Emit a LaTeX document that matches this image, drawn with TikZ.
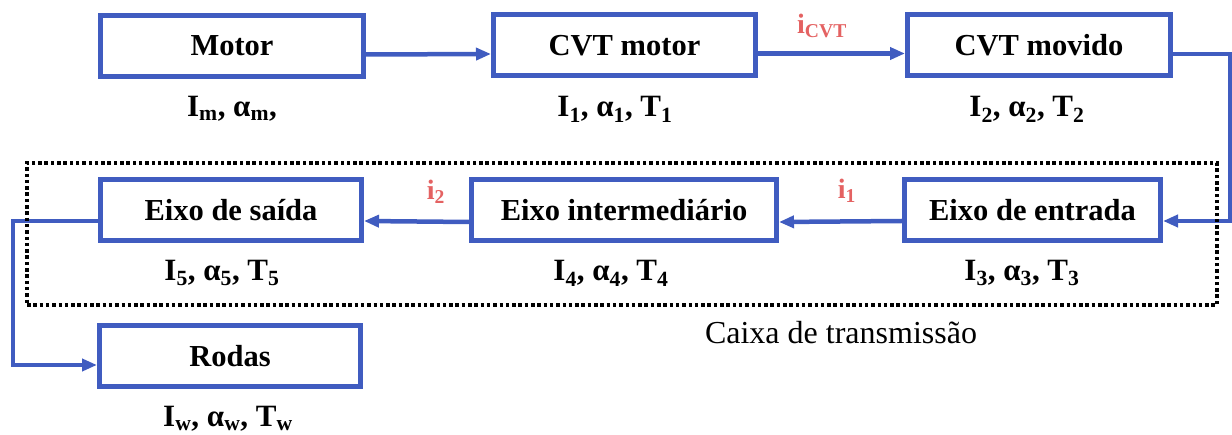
\documentclass[tikz,border=0pt]{standalone}
\usepackage{fontspec}
\setmainfont{Liberation Serif}
\usetikzlibrary{arrows.meta}
\definecolor{lineblue}{RGB}{64,92,192}
\definecolor{ratiored}{RGB}{228,98,98}
\begin{document}
\begin{tikzpicture}[x=1pt,y=-1pt,
  blockbox/.style={draw=lineblue, line width=5pt, minimum height=61pt, inner sep=0pt, fill=white,
    font=\fontsize{30.5}{36}\selectfont\bfseries},
  varlabel/.style={font=\fontsize{31}{36}\selectfont\bfseries, inner sep=0pt},
  ratiolabel/.style={text=ratiored, font=\fontsize{28}{32}\selectfont\bfseries, inner sep=0pt},
  link/.style={draw=lineblue, line width=4.5pt, -{Triangle[length=15pt,width=12pt]}},
  dotbox/.style={draw=black, line width=3.2pt, dash pattern=on 3.5pt off 2.8pt, inner sep=0pt},
  ]
\useasboundingbox (0,0) rectangle (1232,435);

% blocks
\node[blockbox, minimum width=263pt] (motor) at (232,46) {Motor};
\node[blockbox, minimum width=262pt] (cvtm) at (624.5,45.5) {CVT motor};
\node[blockbox, minimum width=263pt] (cvtmov) at (1039,45.5) {CVT movido};
\node[blockbox, minimum width=256pt] (entrada) at (1032.5,210) {Eixo de entrada};
\node[blockbox, minimum width=305pt] (inter) at (624,210.5) {Eixo intermediário};
\node[blockbox, minimum width=261pt] (saida) at (231,210) {Eixo de saída};
\node[blockbox, minimum width=261pt] (rodas) at (230,356.5) {Rodas};

% turning points
\coordinate (rturn) at (1230,54);
\coordinate (lturn) at (13,221);

% connectors
\draw[link] ([yshift=-8.5pt]motor.east) -- ([yshift=-8.5pt]cvtm.west);
\draw[link] ([yshift=-8pt]cvtm.east) -- ([yshift=-8pt]cvtmov.west);
\draw[link] ([yshift=-8.5pt]cvtmov.east) -- (rturn) |- ([yshift=-11pt]entrada.east);
\draw[link] ([yshift=-11pt]entrada.west) -- ([yshift=-11.5pt]inter.east);
\draw[link] ([yshift=-11.5pt]inter.west) -- ([yshift=-11pt]saida.east);
\draw[link] ([yshift=-11pt]saida.west) -- (lturn) |- ([yshift=-8.5pt]rodas.west);

% transmission box
\node[dotbox, minimum width=1190pt, minimum height=142pt] (caixa) at (622,234) {};
\node[font=\fontsize{32}{36}\selectfont, inner sep=0pt] (caixalabel) at (841,333) {Caixa de transmissão};

% ratios
\node[ratiolabel] (icvt) at (822,26) {i\textsubscript{CVT}};
\node[ratiolabel] (ione) at (847,191) {i\textsubscript{1}};
\node[ratiolabel] (itwo) at (436,192) {i\textsubscript{2}};

% variables
\node[varlabel] (vm) at (232,109) {I\textsubscript{m}, α\textsubscript{m},};
\node[varlabel] (v1) at (615,109) {I\textsubscript{1}, α\textsubscript{1}, T\textsubscript{1}};
\node[varlabel] (v2) at (1027,109) {I\textsubscript{2}, α\textsubscript{2}, T\textsubscript{2}};
\node[varlabel] (v3) at (1022,273) {I\textsubscript{3}, α\textsubscript{3}, T\textsubscript{3}};
\node[varlabel] (v4) at (611,273) {I\textsubscript{4}, α\textsubscript{4}, T\textsubscript{4}};
\node[varlabel] (v5) at (222,273) {I\textsubscript{5}, α\textsubscript{5}, T\textsubscript{5}};
\node[varlabel] (vw) at (228,419) {I\textsubscript{w}, α\textsubscript{w}, T\textsubscript{w}};
\end{tikzpicture}
\end{document}
